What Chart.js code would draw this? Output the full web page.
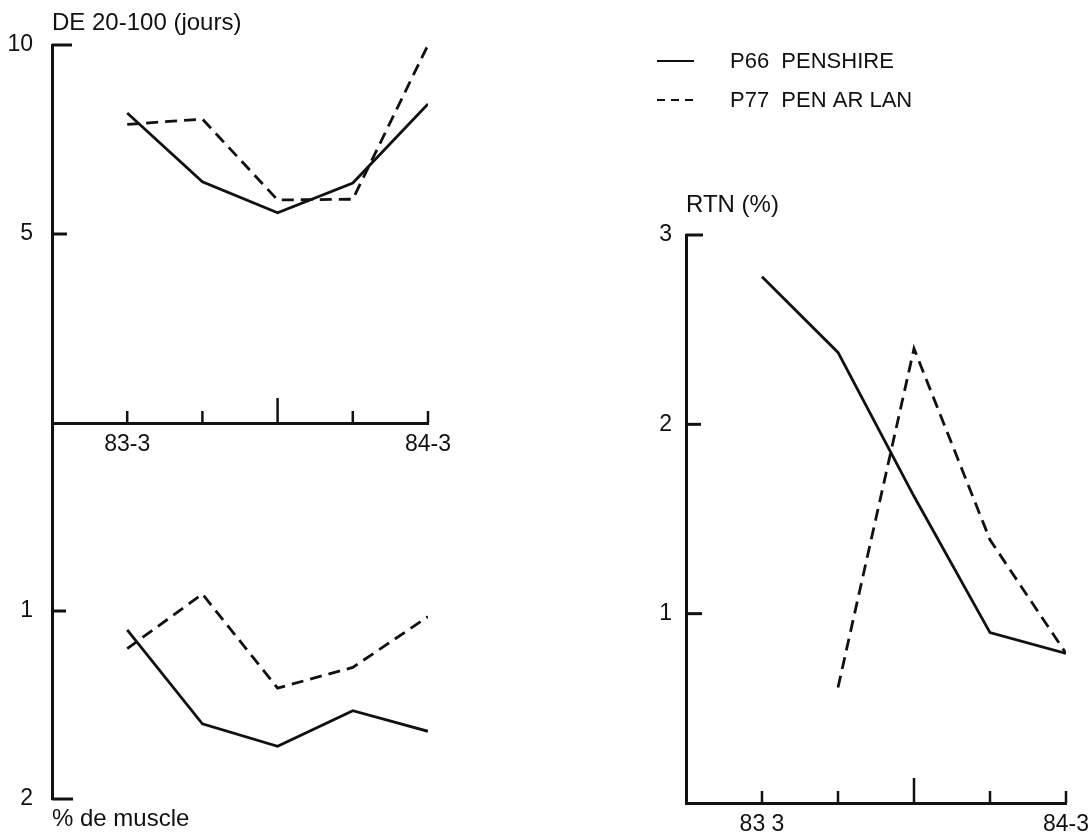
<!DOCTYPE html>
<html>
<head>
<meta charset="utf-8">
<script src="https://cdn.jsdelivr.net/npm/chart.js@4/dist/chart.umd.min.js"></script>
<style>
  body { margin: 0; background: #fff; }
  #wrap { position: relative; width: 1088px; height: 838px; }
  #wrap canvas { position: absolute; left: 0; top: 0; }
</style>
</head>
<body>
<div id="wrap">
  <canvas id="deChart" width="1088" height="838"></canvas>
  <canvas id="muscleChart" width="1088" height="838"></canvas>
  <canvas id="rtnChart" width="1088" height="838"></canvas>
</div>
<script>
// periodes de mesure (83-3 ... 84-3)
const periods = [0, 1, 2, 3, 4];
const periodLabels = ["83-3", "", "", "", "84-3"];
const rtnPeriodLabels = ["83 3", "", "", "", "84-3"];

const seriesNames = ["P66  PENSHIRE", "P77  PEN AR LAN"];

// DE 20-100 (jours)
const deP66 = [8.2, 6.38, 5.56, 6.35, 8.44];
const deP77 = [7.9, 8.04, 5.9, 5.92, 10.0];
const deTicks = [5, 10];

// % de muscle (axe inverse)
const muscleP66 = [1.1, 1.6, 1.72, 1.53, 1.64];
const muscleP77 = [1.2, 0.91, 1.41, 1.3, 1.03];
const muscleTicks = [1, 2];

// RTN (%)
const rtnP66 = [2.78, 2.38, 1.62, 0.9, 0.79];
const rtnP77 = [null, 0.61, 2.4, 1.39, 0.79];
const rtnTicks = [1, 2, 3];

const ink = "#111";
const family = "'Liberation Sans', Arial, sans-serif";
const W = 1088, H = 838;

function toPoints(values) {
  return values.map((v, i) => ({ x: periods[i], y: v }));
}

function lineSet(label, values, dashed) {
  return {
    label: label,
    data: toPoints(values),
    borderColor: ink,
    borderWidth: 2.8,
    borderDash: dashed ? [12, 7] : [],
    pointRadius: 0,
    tension: 0,
    fill: false,
  };
}

// ticks, libelles et legende dessines a la main, a partir des echelles du graphique
const decorPlugin = {
  id: "decor",
  afterDraw(chart, args, opts) {
    const ctx = chart.ctx;
    const area = chart.chartArea;
    const xs = chart.scales.x;
    const ys = chart.scales.y;
    ctx.save();
    ctx.strokeStyle = ink;
    ctx.fillStyle = ink;
    ctx.lineWidth = 3;
    ctx.font = "23px " + family;

    (opts.yTicks || []).forEach((v, i) => {
      const py = ys.getPixelForValue(v);
      ctx.beginPath();
      ctx.moveTo(area.left, py);
      ctx.lineTo(area.left + opts.yTickLen[i], py);
      ctx.stroke();
      ctx.textAlign = "right";
      ctx.textBaseline = "middle";
      ctx.fillText(String(v), area.left - opts.yLabelGap, py);
    });

    if (opts.xLabels) {
      periods.forEach((p, i) => {
        const px = xs.getPixelForValue(p);
        const len = i === 2 ? 25 : 12;
        ctx.lineWidth = 2.5;
        ctx.beginPath();
        ctx.moveTo(px, area.bottom);
        ctx.lineTo(px, area.bottom - len);
        ctx.stroke();
        if (opts.xLabels[i]) {
          ctx.textAlign = "center";
          ctx.textBaseline = "middle";
          ctx.fillText(opts.xLabels[i], px, area.bottom + 22);
        }
      });
    }

    if (opts.title) {
      ctx.font = "24px " + family;
      ctx.textAlign = "left";
      ctx.textBaseline = "middle";
      const ty = opts.title.below ? area.bottom + opts.title.dy : area.top - opts.title.dy;
      ctx.fillText(opts.title.text, area.left, ty);
    }

    if (opts.legend) {
      ctx.font = "22px " + family;
      seriesNames.forEach((name, i) => {
        const ly = 61 + i * 39;
        ctx.lineWidth = 2;
        ctx.setLineDash(i === 0 ? [] : [8, 6]);
        ctx.beginPath();
        ctx.moveTo(657, ly);
        ctx.lineTo(694, ly);
        ctx.stroke();
        ctx.setLineDash([]);
        ctx.textAlign = "left";
        ctx.textBaseline = "middle";
        ctx.fillText(name, 730, ly + 1);
      });
    }
    ctx.restore();
  },
};

function makeChart(id, area, yMin, yMax, reverse, datasets, showX, decor) {
  const axisStyle = {
    grid: { display: false, drawTicks: false },
    ticks: { display: false },
    border: { display: true, color: ink, width: 3 },
  };
  return new Chart(document.getElementById(id), {
    type: "line",
    data: { datasets: datasets },
    options: {
      responsive: false,
      animation: false,
      devicePixelRatio: 1,
      layout: {
        autoPadding: false,
        padding: { left: area.left, top: area.top, right: W - area.right, bottom: H - area.bottom },
      },
      scales: {
        x: Object.assign({ type: "linear", min: -1, max: 4, display: showX }, axisStyle),
        y: Object.assign({ type: "linear", min: yMin, max: yMax, reverse: reverse }, axisStyle),
      },
      plugins: {
        legend: { display: false },
        tooltip: { enabled: false },
        decor: decor,
      },
    },
    plugins: [decorPlugin],
  });
}

makeChart("deChart", { left: 52, right: 428, top: 45, bottom: 423 }, 0, 10, false,
  [lineSet(seriesNames[0], deP66, false), lineSet(seriesNames[1], deP77, true)], true,
  { yTicks: deTicks, yTickLen: [15, 20], yLabelGap: 19, xLabels: periodLabels,
    title: { text: "DE 20-100 (jours)", dy: 22 } });

makeChart("muscleChart", { left: 52, right: 428, top: 423, bottom: 799 }, 0, 2, true,
  [lineSet(seriesNames[0], muscleP66, false), lineSet(seriesNames[1], muscleP77, true)], false,
  { yTicks: muscleTicks, yTickLen: [14, 21], yLabelGap: 19,
    title: { text: "% de muscle", dy: 20, below: true } });

makeChart("rtnChart", { left: 686, right: 1066, top: 235, bottom: 803 }, 0, 3, false,
  [lineSet(seriesNames[0], rtnP66, false), lineSet(seriesNames[1], rtnP77, true)], true,
  { yTicks: rtnTicks, yTickLen: [16, 15, 17], yLabelGap: 14, xLabels: rtnPeriodLabels,
    title: { text: "RTN (%)", dy: 30 }, legend: true });
</script>
</body>
</html>
